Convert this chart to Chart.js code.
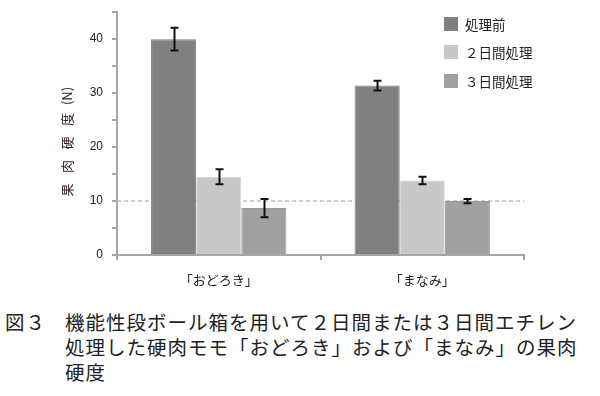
<!DOCTYPE html>
<html lang="ja">
<head>
<meta charset="utf-8">
<script src="https://cdn.jsdelivr.net/npm/chart.js@4"></script>
<style>
    body { margin: 0; background: #fff; width: 600px; height: 396px; overflow: hidden; position: relative; }
    #wrap { position: absolute; left: 0; top: -4px; width: 600px; height: 296px; }
    .caption {
        position: absolute;
        left: 65px;
        top: 309px;
        width: 530px;
        font-family: "Noto Sans CJK JP", sans-serif;
        font-size: 19.5px;
        line-height: 25px;
        letter-spacing: 1px;
        color: #222;
    }
    .fig-no {
        position: absolute;
        left: 5px;
        top: 309px;
        font-family: "Noto Sans CJK JP", sans-serif;
        font-size: 19.5px;
        line-height: 25px;
        letter-spacing: 1px;
        color: #222;
    }
</style>
</head>
<body>
<div id="wrap"><canvas id="chart"></canvas></div>
<div class="fig-no">図３</div>
<div class="caption">機能性段ボール箱を用いて２日間または３日間エチレン処理した硬肉モモ「おどろき」および「まなみ」の果肉硬度</div>

<script>
// Chart data
const categories = ['「おどろき」', '「まなみ」'];
const seriesNames = ['処理前', '２日間処理', '３日間処理'];
const before = [40.0, 31.4];
const twoDays = [14.5, 13.8];
const threeDays = [8.7, 10.0];
const beforeErr = [2.1, 0.9];
const twoDaysErr = [1.4, 0.7];
const threeDaysErr = [1.7, 0.4];
const referenceLine = 10;
const yTicks = [0, 10, 20, 30, 40];

const barColors = ['#808080', '#c8c8c8', '#a0a0a0'];
const borderColors = ['#7a7a7a', '#d4d4d4', '#9a9a9a'];

// Dashed reference line at 10 N, behind bars
const refLinePlugin = {
    id: 'refLine',
    beforeDatasetsDraw(chart) {
        const ctx = chart.ctx;
        const y = chart.scales.y.getPixelForValue(referenceLine);
        const area = chart.chartArea;
        ctx.save();
        ctx.strokeStyle = '#b4bed6';
        ctx.lineWidth = 1.5;
        ctx.setLineDash([4, 3]);
        ctx.beginPath();
        ctx.moveTo(area.left, y);
        ctx.lineTo(area.right, y);
        ctx.stroke();
        ctx.restore();
    }
};

// Error bars drawn on top of each bar
const errorBarPlugin = {
    id: 'errorBars',
    afterDatasetsDraw(chart) {
        const ctx = chart.ctx;
        const yScale = chart.scales.y;
        ctx.save();
        ctx.strokeStyle = '#111';
        ctx.lineWidth = 2;
        chart.data.datasets.forEach((ds, i) => {
            const meta = chart.getDatasetMeta(i);
            meta.data.forEach((bar, j) => {
                const v = ds.data[j];
                const e = ds.errors[j];
                const top = yScale.getPixelForValue(v + e);
                const bottom = yScale.getPixelForValue(v - e);
                const x = Math.round(bar.x) + 0.5;
                ctx.beginPath();
                ctx.moveTo(x, top);
                ctx.lineTo(x, bottom);
                ctx.moveTo(x - 4, top);
                ctx.lineTo(x + 4, top);
                ctx.moveTo(x - 4, bottom);
                ctx.lineTo(x + 4, bottom);
                ctx.stroke();
            });
        });
        ctx.restore();
    }
};

// Legend inside the plot, top right, and the vertical axis title
const sideTextPlugin = {
    id: 'sideText',
    afterDraw(chart) {
        const ctx = chart.ctx;
        ctx.save();
        ctx.font = '13.5px "Noto Sans CJK JP", sans-serif';
        ctx.textBaseline = 'middle';
        ctx.fillStyle = '#222';
        const rows = [28, 56, 85];
        chart.data.datasets.forEach((ds, i) => {
            ctx.fillStyle = ds.backgroundColor;
            ctx.fillRect(444, rows[i] - 7, 14, 14);
            ctx.fillStyle = '#222';
            ctx.fillText(ds.label, 465, rows[i] + 1);
        });

        // axis title, read bottom to top
        const parts = ['果', '肉', '硬', '度', '(N)'];
        ctx.font = '13px "Noto Sans CJK JP", sans-serif';
        ctx.fillStyle = '#3a2222';
        ctx.textAlign = 'center';
        parts.forEach((p, k) => {
            ctx.save();
            ctx.translate(67, 194 - k * 23.5);
            ctx.rotate(-Math.PI / 2);
            ctx.fillText(p, 0, 0);
            ctx.restore();
        });
        ctx.restore();
    }
};

const seriesValues = [before, twoDays, threeDays];
const seriesErrors = [beforeErr, twoDaysErr, threeDaysErr];

new Chart(document.getElementById('chart'), {
    type: 'bar',
    data: {
        labels: categories,
        datasets: seriesNames.map((name, i) => ({
            label: name,
            data: seriesValues[i],
            errors: seriesErrors[i],
            backgroundColor: barColors[i],
            borderColor: borderColors[i],
            borderWidth: 1,
            categoryPercentage: 0.665,
            barPercentage: 1.0
        }))
    },
    options: {
        responsive: true,
        maintainAspectRatio: false,
        animation: false,
        layout: { padding: { left: 0, right: 76, top: 9, bottom: 0 } },
        plugins: {
            legend: { display: false },
            tooltip: { enabled: false }
        },
        scales: {
            x: {
                offset: true,
                grid: { offset: true, drawOnChartArea: false, tickLength: 5, color: '#a6a6a6', lineWidth: 2 },
                border: { color: '#a6a6a6', width: 2 },
                ticks: {
                    padding: 12,
                    color: '#222',
                    font: { family: '"Noto Sans CJK JP", sans-serif', size: 13 }
                },
                afterFit(scale) { scale.height = 37; }
            },
            y: {
                min: 0,
                max: 45,
                grid: { drawOnChartArea: false, tickLength: 5, color: '#a6a6a6', lineWidth: 2 },
                border: { color: '#a6a6a6', width: 2 },
                ticks: {
                    stepSize: 5,
                    padding: 9,
                    color: '#222',
                    font: { family: '"Liberation Sans", Arial, sans-serif', size: 12 },
                    callback: (v) => yTicks.includes(v) ? String(v) : ''
                },
                afterFit(scale) { scale.width = 117; }
            }
        }
    },
    plugins: [refLinePlugin, errorBarPlugin, sideTextPlugin]
});
</script>
</body>
</html>
